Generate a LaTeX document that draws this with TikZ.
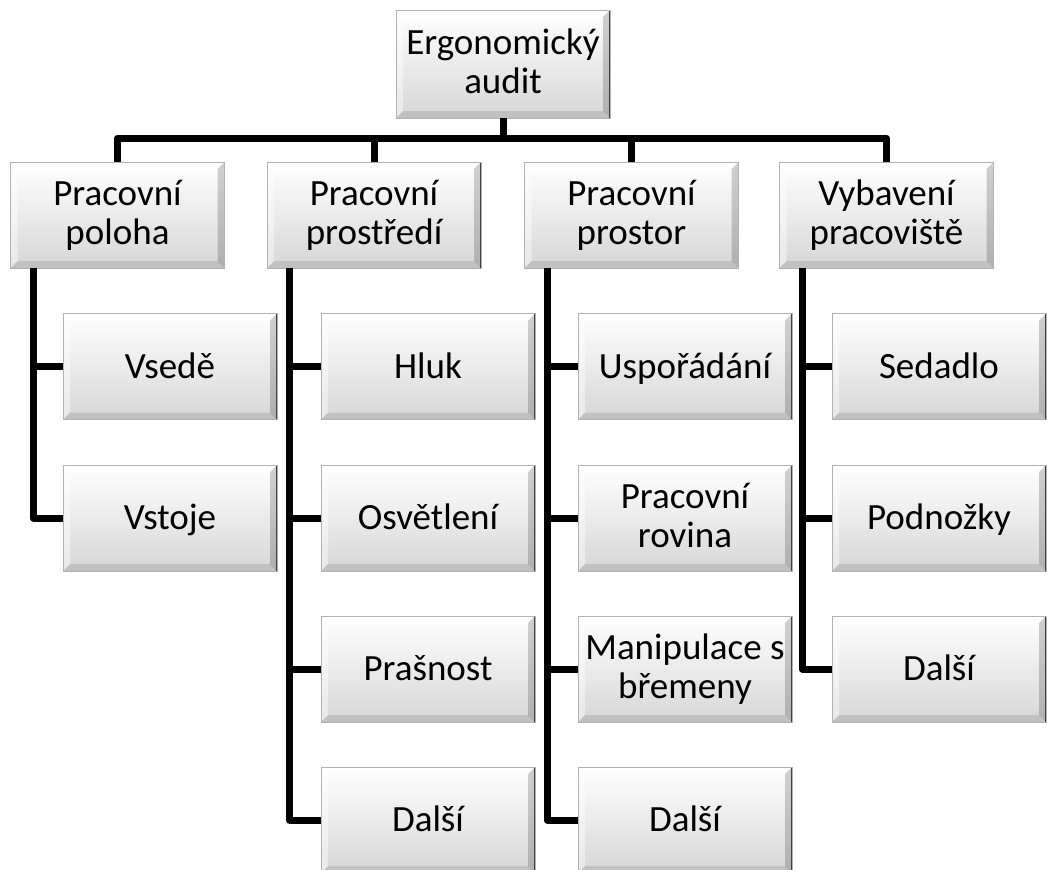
\documentclass[tikz,border=0pt]{standalone}
\usepackage{fontspec}
\setmainfont{Carlito}
\newcommand\boxone[1]{\rule{0pt}{23.8pt}\smash{#1}}
\newcommand\boxtwo[2]{\rule[-4pt]{0pt}{66.8pt}\smash{\begin{tabular}[b]{@{}c@{}}#1\\#2\end{tabular}}}
\begin{document}
\begin{tikzpicture}[x=1pt,y=-1pt,
 box/.style={minimum width=214pt, minimum height=106pt, inner sep=0pt,
  font=\fontsize{37}{39}\selectfont,
  top color=white, bottom color=black!16,
  draw=black!30, line width=0.8pt,
  path picture={
   \coordinate (pNW) at (path picture bounding box.north west);
   \coordinate (pNE) at (path picture bounding box.north east);
   \coordinate (pSW) at (path picture bounding box.south west);
   \coordinate (pSE) at (path picture bounding box.south east);
   \fill[white,opacity=0.7] (pNW) -- (pNE) -- ([xshift=-7pt,yshift=-7pt]pNE) -- ([xshift=7pt,yshift=-7pt]pNW) -- cycle;
   \fill[white,opacity=0.45] (pNW) -- (pSW) -- ([xshift=7pt,yshift=7pt]pSW) -- ([xshift=7pt,yshift=-7pt]pNW) -- cycle;
   \fill[black,opacity=0.18] (pNE) -- (pSE) -- ([xshift=-7pt,yshift=7pt]pSE) -- ([xshift=-7pt,yshift=-7pt]pNE) -- cycle;
   \fill[black,opacity=0.10] (pSW) -- (pSE) -- ([xshift=-7pt,yshift=7pt]pSE) -- ([xshift=7pt,yshift=7pt]pSW) -- cycle;
   \draw[black!75,line width=2pt] (pNE) -- (pSE);
  }},
 link/.style={line width=7pt, line join=round}]
\useasboundingbox (0,0) rectangle (1047,870);
\fill[white] (0,0) rectangle (1047,870);

\node[box, minimum height=108pt] (root) at (503,64) {\boxtwo{Ergonomický}{audit}};

\node[box] (a) at (117.5,215) {\boxtwo{Pracovní}{poloha}};
\node[box] (b) at (374,215) {\boxtwo{Pracovní}{prostředí}};
\node[box] (c) at (631.5,215) {\boxtwo{Pracovní}{prostor}};
\node[box] (d) at (886.5,215) {\boxtwo{Vybavení}{pracoviště}};

\node[box] (a1) at (170,366.5) {\boxone{Vsedě}};
\node[box] (a2) at (170,518) {\boxone{Vstoje}};

\node[box] (b1) at (428,366.5) {\boxone{Hluk}};
\node[box] (b2) at (428,518) {\boxone{Osvětlení}};
\node[box] (b3) at (428,669) {\boxone{Prašnost}};
\node[box] (b4) at (428,820) {\boxone{Další}};

\node[box] (c1) at (685,366.5) {\boxone{Uspořádání}};
\node[box] (c2) at (685,518) {\boxtwo{Pracovní}{rovina}};
\node[box] (c3) at (685,669) {\boxtwo{Manipulace s}{břemeny}};
\node[box] (c4) at (685,820) {\boxone{Další}};

\node[box] (d1) at (939,366.5) {\boxone{Sedadlo}};
\node[box] (d2) at (939,518) {\boxone{Podnožky}};
\node[box] (d3) at (939,669) {\boxone{Další}};

\coordinate (bar) at (503,138);
\draw[link] (root.south) -- (bar);
\foreach \t in {a,b,c,d} {\draw[link] (bar) -| (\t.north);}

\foreach \p/\kids in {a/{a1,a2}, b/{b1,b2,b3,b4}, c/{c1,c2,c3,c4}, d/{d1,d2,d3}} {
  \foreach \k in \kids {
    \draw[link] ([xshift=23pt]\p.south west) |- (\k.west);
  }
}
\end{tikzpicture}
\end{document}
